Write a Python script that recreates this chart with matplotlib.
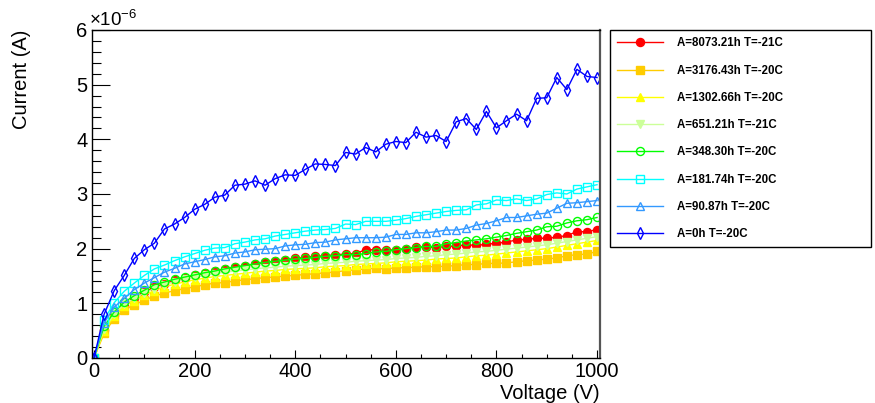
import numpy as np
import matplotlib
matplotlib.use("Agg")
import matplotlib.pyplot as plt
from matplotlib.ticker import MultipleLocator, FuncFormatter

plt.rcParams['font.family'] = ['Liberation Sans', 'DejaVu Sans']
plt.rcParams['mathtext.fontset'] = 'custom'
plt.rcParams['mathtext.rm'] = 'Liberation Sans'
plt.rcParams['mathtext.it'] = 'Liberation Sans'

# Voltage points (V)
voltage = np.arange(0, 1001, 20)

# Current in units of 1e-6 A
cur_8073 = [0, 0.52, 0.78, 0.96, 1.09, 1.20, 1.30, 1.36, 1.42, 1.47,
            1.51, 1.55, 1.59, 1.63, 1.66, 1.69, 1.72, 1.75, 1.77, 1.80,
            1.82, 1.84, 1.86, 1.87, 1.89, 1.90,
            1.91, 1.98, 1.98, 1.97, 1.98, 2.00, 2.03, 2.03, 2.02, 2.04,
            2.05, 2.07, 2.06, 2.08, 2.10, 2.12, 2.16, 2.17, 2.19, 2.19,
            2.21, 2.24, 2.31, 2.31, 2.35]
cur_3176 = [0, 0.45, 0.72, 0.88, 0.97, 1.06, 1.13, 1.19, 1.23, 1.27,
            1.30, 1.34, 1.37, 1.38, 1.41, 1.43, 1.45, 1.47, 1.48, 1.50,
            1.51, 1.53, 1.54, 1.56, 1.57, 1.60,
            1.61, 1.63, 1.64, 1.63, 1.65, 1.65, 1.66, 1.67, 1.67, 1.68,
            1.69, 1.71, 1.71, 1.73, 1.73, 1.74, 1.76, 1.78, 1.79, 1.81,
            1.83, 1.87, 1.89, 1.90, 1.95]
cur_1302 = [0, 0.50, 0.77, 0.95, 1.05, 1.15, 1.23, 1.30, 1.35, 1.39,
            1.43, 1.46, 1.49, 1.51, 1.53, 1.55, 1.57, 1.59, 1.60, 1.62,
            1.63, 1.64, 1.65, 1.67, 1.68, 1.69,
            1.71, 1.72, 1.73, 1.74, 1.76, 1.77, 1.78, 1.79, 1.81, 1.82,
            1.83, 1.85, 1.87, 1.88, 1.90, 1.92, 1.94, 1.96, 1.98, 2.00,
            2.03, 2.06, 2.09, 2.12, 2.15]
cur_651 = [0, 0.53, 0.80, 0.98, 1.09, 1.19, 1.27, 1.34, 1.39, 1.44,
           1.48, 1.51, 1.54, 1.57, 1.59, 1.61, 1.63, 1.65, 1.66, 1.68,
           1.69, 1.70, 1.71, 1.73, 1.74, 1.75,
           1.77, 1.78, 1.79, 1.80, 1.82, 1.83, 1.84, 1.86, 1.87, 1.89,
           1.90, 1.92, 1.94, 1.95, 1.97, 1.99, 2.01, 2.03, 2.05, 2.07,
           2.10, 2.13, 2.16, 2.19, 2.22]
cur_348 = [0, 0.58, 0.84, 1.02, 1.14, 1.24, 1.34, 1.39, 1.44, 1.48,
           1.52, 1.56, 1.59, 1.63, 1.66, 1.69, 1.72, 1.75, 1.77, 1.79,
           1.81, 1.82, 1.84, 1.86, 1.87, 1.89,
           1.89, 1.91, 1.94, 1.95, 1.98, 2.00, 2.02, 2.04, 2.04, 2.09,
           2.11, 2.14, 2.16, 2.18, 2.21, 2.24, 2.28, 2.31, 2.34, 2.40,
           2.41, 2.47, 2.51, 2.53, 2.57]
cur_181 = [0, 0.70, 1.01, 1.22, 1.37, 1.51, 1.63, 1.70, 1.78, 1.85,
           1.91, 1.97, 2.01, 2.02, 2.09, 2.12, 2.16, 2.18, 2.23, 2.26,
           2.29, 2.32, 2.34, 2.35, 2.37, 2.45,
           2.44, 2.50, 2.50, 2.50, 2.52, 2.55, 2.59, 2.62, 2.65, 2.68,
           2.70, 2.71, 2.80, 2.82, 2.89, 2.88, 2.91, 2.88, 2.91, 2.99,
           3.02, 3.00, 3.09, 3.13, 3.17]
cur_90 = [0, 0.64, 0.93, 1.09, 1.25, 1.37, 1.47, 1.57, 1.64, 1.72,
          1.76, 1.80, 1.85, 1.87, 1.92, 1.94, 1.98, 1.99, 2.00, 2.05,
          2.07, 2.08, 2.11, 2.12, 2.16, 2.18,
          2.20, 2.20, 2.20, 2.21, 2.26, 2.26, 2.29, 2.29, 2.31, 2.34,
          2.34, 2.37, 2.43, 2.46, 2.51, 2.57, 2.57, 2.60, 2.63, 2.65,
          2.74, 2.83, 2.84, 2.86, 2.88]
cur_0 = [0, 0.80, 1.23, 1.51, 1.82, 1.98, 2.10, 2.36, 2.45, 2.57,
         2.72, 2.81, 2.94, 2.98, 3.16, 3.18, 3.24, 3.16, 3.28, 3.35,
         3.34, 3.45, 3.55, 3.54, 3.52, 3.76,
         3.73, 3.85, 3.77, 3.91, 3.96, 3.94, 4.13, 4.04, 4.07, 3.96,
         4.32, 4.38, 4.18, 4.51, 4.21, 4.34, 4.46, 4.34, 4.75, 4.76,
         5.13, 4.91, 5.28, 5.15, 5.13]

labels = ['A=8073.21h T=-21C', 'A=3176.43h T=-20C', 'A=1302.66h T=-20C',
          'A=651.21h T=-21C', 'A=348.30h T=-20C', 'A=181.74h T=-20C',
          'A=90.87h T=-20C', 'A=0h T=-20C']
series = [cur_8073, cur_3176, cur_1302, cur_651, cur_348, cur_181, cur_90, cur_0]
colors = ['#ff0000', '#ffcc00', '#ffff00', '#ccff99',
          '#00ff00', '#00ffff', '#3399ff', '#0000ff']
markers = ['o', 's', '^', 'v', 'o', 's', '^', 'd']
filled = [True, True, True, True, False, False, False, False]

fig = plt.figure(figsize=(8.75, 4.03), dpi=100)
ax = fig.add_axes([0.1046, 0.1117, 0.5806, 0.8139])

for cur, lab, col, mk, fill in zip(series, labels, colors, markers, filled):
    amps = np.array(cur) * 1e-6
    ax.plot(voltage, amps, color=col, lw=1.0, marker=mk, ms=5.8,
            markerfacecolor=col if fill else 'none', markeredgecolor=col,
            markeredgewidth=1.0, label=lab)

ax.set_xlim(-5, 1005)
ax.set_ylim(0, 6e-6)
ax.xaxis.set_major_locator(MultipleLocator(200))
ax.xaxis.set_minor_locator(MultipleLocator(50))
ax.yaxis.set_major_locator(MultipleLocator(1e-6))
ax.yaxis.set_minor_locator(MultipleLocator(0.2e-6))
ax.yaxis.set_major_formatter(FuncFormatter(lambda v, p: '%d' % round(v * 1e6)))
ax.tick_params(axis='both', which='both', direction='in', labelsize=14.5,
               top=False, right=False, width=0.8)
ax.tick_params(axis='y', which='major', length=13, pad=3)
ax.tick_params(axis='y', which='minor', length=6.5)
ax.tick_params(axis='x', which='major', length=6, pad=3)
ax.tick_params(axis='x', which='minor', length=3)

for s in ax.spines.values():
    s.set_linewidth(1.0)
ax.spines['right'].set_color('#555555')
ax.spines['right'].set_linewidth(1.6)

ax.text(-0.004, 1.0, r'$\times10^{-6}$', transform=ax.transAxes,
        ha='left', va='bottom', fontsize=13.5)

ax.set_xlabel('Voltage (V)', fontsize=14.5, loc='right')
ax.xaxis.set_label_coords(1.0, -0.08)
ax.set_ylabel('Current (A)', fontsize=14.5, loc='top')
ax.yaxis.set_label_coords(-0.12, 1.0)

leg = ax.legend(loc='upper left', bbox_to_anchor=(0.6966, 0.9256, 0.2983, 0.0),
                bbox_transform=fig.transFigure, mode='expand',
                prop={'weight': 'bold', 'size': 8.3}, handlelength=4.0,
                handletextpad=1.2, labelspacing=1.32, borderpad=0.65,
                borderaxespad=0.0, fancybox=False, framealpha=1.0,
                edgecolor='black')
leg.get_frame().set_linewidth(1.0)

fig.savefig('out.png', dpi=100)
